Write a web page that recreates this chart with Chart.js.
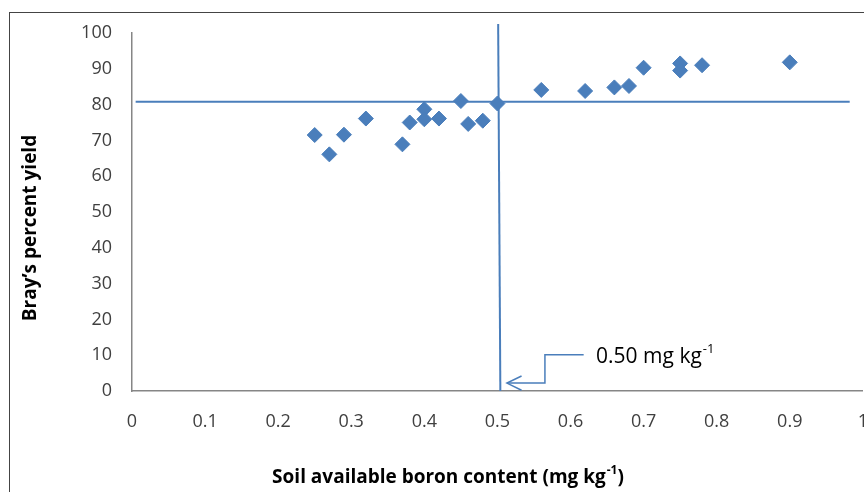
<!DOCTYPE html>
<html>
<head>
<meta charset="utf-8">
<script src="https://cdn.jsdelivr.net/npm/chart.js@4.4.0/dist/chart.umd.min.js"></script>
<style>
  html, body { margin: 0; padding: 0; background: #fff; overflow: hidden; width: 864px; height: 492px; }
  #frame { position: absolute; left: 9px; top: 12px; width: 900px; height: 520px; border: 1px solid #444; }
  #chart { position: absolute; left: 0; top: 0; }
</style>
</head>
<body>
<div id="frame"></div>
<canvas id="chart" width="888" height="492"></canvas>
<script>
// Soil boron vs Bray's percent yield
const boron = [0.25, 0.27, 0.29, 0.32, 0.37, 0.38, 0.40, 0.40, 0.42, 0.45, 0.46, 0.48, 0.50,
               0.56, 0.62, 0.66, 0.68, 0.70, 0.75, 0.75, 0.78, 0.90];
const braysYield = [71.5, 66.1, 71.6, 76.1, 68.9, 75.0, 78.7, 75.9, 76.1, 81.0, 74.6, 75.5, 80.3,
                    84.1, 83.8, 84.8, 85.2, 90.3, 91.5, 89.5, 91.0, 91.8];

// Critical level lines
const critHX = [0.005, 0.982];
const critHY = [80.8, 80.8];
const critVX = [0.501, 0.504];
const critVY = [102.5, 0];

// Callout arrow pointing at the critical level
const calloutX = [0.618, 0.565, 0.565, 0.513];
const calloutY = [10.1, 10.1, 2.2, 2.2];
const arrowHeadX = [0.533, 0.513, 0.533];
const arrowHeadY = [4.2, 2.2, 0.2];
const calloutLabel = { x: 0.635, y: 9.4, text: "0.50 mg kg", sup: "-1" };

const xTicks = [0, 0.1, 0.2, 0.3, 0.4, 0.5, 0.6, 0.7, 0.8, 0.9, 1];
const yTicks = [0, 10, 20, 30, 40, 50, 60, 70, 80, 90, 100];

const xTitle = "Soil available boron content (mg kg";
const yTitle = "Bray\u2019s percent yield";

const blue = "#4A7EBB";
const toPts = (xs, ys) => xs.map((x, i) => ({ x: x, y: ys[i] }));

function lineSet(xs, ys, width) {
    return {
        type: "line",
        data: toPts(xs, ys),
        borderColor: blue,
        borderWidth: width,
        pointRadius: 0,
        fill: false,
        tension: 0,
        clip: false
    };
}

// text with a superscript tail, centred or left aligned
function supText(ctx, x, y, main, sup, tail, size, weight, center) {
    ctx.font = weight + " " + size + "px 'Open Sans'";
    const w1 = ctx.measureText(main).width;
    ctx.font = weight + " " + Math.round(size * 0.62) + "px 'Open Sans'";
    const w2 = ctx.measureText(sup).width;
    ctx.font = weight + " " + size + "px 'Open Sans'";
    const w3 = tail ? ctx.measureText(tail).width : 0;
    let x0 = center ? x - (w1 + w2 + w3 + 1) / 2 : x;
    ctx.textAlign = "left";
    ctx.fillText(main, x0, y);
    ctx.font = weight + " " + Math.round(size * 0.62) + "px 'Open Sans'";
    ctx.fillText(sup, x0 + w1 + 1, y - size * 0.4);
    if (tail) {
        ctx.font = weight + " " + size + "px 'Open Sans'";
        ctx.fillText(tail, x0 + w1 + w2 + 1, y);
    }
}

const labelsPlugin = {
    id: "labels",
    afterDatasetsDraw(chart) {
        const ctx = chart.ctx;
        const x = chart.scales.x.getPixelForValue(calloutLabel.x);
        const y = chart.scales.y.getPixelForValue(calloutLabel.y);
        ctx.save();
        ctx.fillStyle = "#000";
        ctx.textBaseline = "middle";
        supText(ctx, x, y, calloutLabel.text, calloutLabel.sup, "", 21, "normal", false);

        // axis titles
        supText(ctx, 448, 478, xTitle, "-1", ")", 19, "bold", true);
        ctx.translate(31, 228);
        ctx.rotate(-Math.PI / 2);
        ctx.font = "bold 19px 'Open Sans'";
        ctx.textAlign = "center";
        ctx.fillText(yTitle, 0, 0);
        ctx.restore();
    }
};

const ctx = document.getElementById("chart").getContext("2d");
new Chart(ctx, {
    type: "scatter",
    data: {
        datasets: [
            {
                data: toPts(boron, braysYield),
                pointStyle: "rectRot",
                pointRadius: 7.5,
                backgroundColor: blue,
                borderColor: blue,
                borderWidth: 1
            },
            lineSet(critHX, critHY, 2),
            lineSet(critVX, critVY, 2),
            lineSet(calloutX, calloutY, 1.5),
            lineSet(arrowHeadX, arrowHeadY, 1.5)
        ]
    },
    options: {
        responsive: false,
        animation: false,
        layout: { padding: { left: 0, right: 20, top: 33, bottom: 0 } },
        plugins: {
            legend: { display: false },
            tooltip: { enabled: false }
        },
        scales: {
            x: {
                type: "linear",
                min: 0,
                max: 1,
                afterBuildTicks: s => { s.ticks = xTicks.map(v => ({ value: v })); },
                afterFit: s => { s.height = 101; },
                grid: { display: false, drawTicks: false },
                border: { display: true, color: "#868686", width: 1.5 },
                ticks: {
                    padding: 20,
                    color: "#404040",
                    font: { family: "'Open Sans'", size: 18 },
                    maxRotation: 0,
                    callback: v => String(v)
                }
            },
            y: {
                min: 0,
                max: 100,
                afterBuildTicks: s => { s.ticks = yTicks.map(v => ({ value: v })); },
                afterFit: s => { s.width = 132; },
                grid: { display: false, drawTicks: false },
                border: { display: true, color: "#868686", width: 1.5 },
                ticks: {
                    padding: 20,
                    color: "#404040",
                    font: { family: "'Open Sans'", size: 18 }
                }
            }
        }
    },
    plugins: [labelsPlugin]
});
</script>
</body>
</html>
